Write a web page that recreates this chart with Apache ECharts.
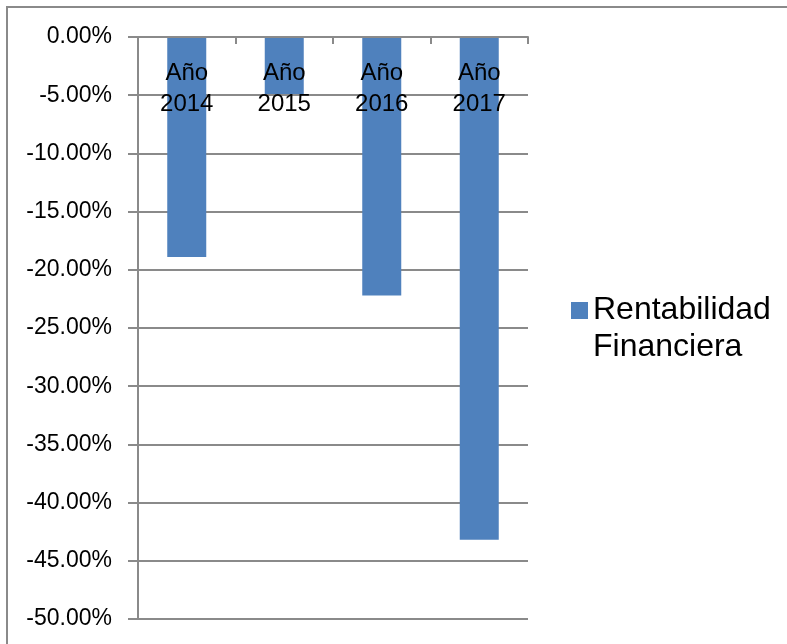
<!DOCTYPE html>
<html>
<head>
<meta charset="utf-8">
<title>Rentabilidad Financiera</title>
<script src="https://cdn.jsdelivr.net/npm/echarts@6/dist/echarts.min.js"></script>
<style>
  html, body { margin: 0; padding: 0; background: #ffffff; }
  #chart { width: 787px; height: 644px; }
</style>
</head>
<body>
<div id="chart"></div>
<script>
// Rentabilidad financiera por año (porcentaje)
var categories = ['Año 2014', 'Año 2015', 'Año 2016', 'Año 2017'];
var seriesName = 'Rentabilidad Financiera';
var rentabilidad = [-18.9, -4.9, -22.2, -43.2];

// Eje de valores
var yMin = -50;
var yMax = 0;
var yStep = 5;

var gray = '#8a8a8a';
var font = 'Liberation Sans, Arial, sans-serif';

var chart = echarts.init(document.getElementById('chart'), null, { renderer: 'canvas' });

chart.setOption({
  backgroundColor: '#ffffff',
  animation: false,
  graphic: [{
    type: 'rect',
    shape: { x: 7, y: 7, width: 900, height: 800 },
    style: { fill: 'none', stroke: '#8a8a8a', lineWidth: 2 },
    silent: true,
    z: 0
  }],
  grid: { left: 138, right: 259, top: 37, bottom: 25, containLabel: false },
  legend: {
    show: true,
    left: 571,
    top: 255,
    padding: 0,
    icon: 'rect',
    itemWidth: 17,
    itemHeight: 17,
    // an empty first line keeps the swatch level with the first word
    formatter: function (name) { return '\n' + name.replace(' ', '\n'); },
    textStyle: {
      fontFamily: font,
      fontSize: 32,
      lineHeight: 37,
      color: '#000000'
    }
  },
  xAxis: {
    type: 'category',
    position: 'top',
    data: categories,
    z: 5,
    axisLine: { show: true, onZero: false, lineStyle: { color: gray, width: 2 } },
    axisTick: { show: true, inside: true, length: 7, alignWithLabel: false, lineStyle: { color: gray, width: 2 } },
    axisLabel: {
      inside: true,
      margin: 21,
      interval: 0,
      fontFamily: font,
      fontSize: 24,
      lineHeight: 31,
      color: '#000000',
      formatter: function (v) { return v.replace(' ', '\n'); }
    },
    splitLine: { show: false }
  },
  yAxis: {
    type: 'value',
    min: yMin,
    max: yMax,
    interval: yStep,
    axisLine: { show: true, lineStyle: { color: gray, width: 2 } },
    axisTick: { show: true, inside: false, length: 10, lineStyle: { color: gray, width: 2 } },
    axisLabel: {
      margin: 26,
      fontFamily: font,
      fontSize: 23,
      color: '#000000',
      formatter: function (v) { return v.toFixed(2) + '%'; }
    },
    splitLine: { show: true, lineStyle: { color: gray, width: 2 } }
  },
  series: [{
    name: seriesName,
    type: 'bar',
    data: rentabilidad,
    barWidth: 39,
    itemStyle: { color: '#4F81BD' }
  }]
});
</script>
</body>
</html>
